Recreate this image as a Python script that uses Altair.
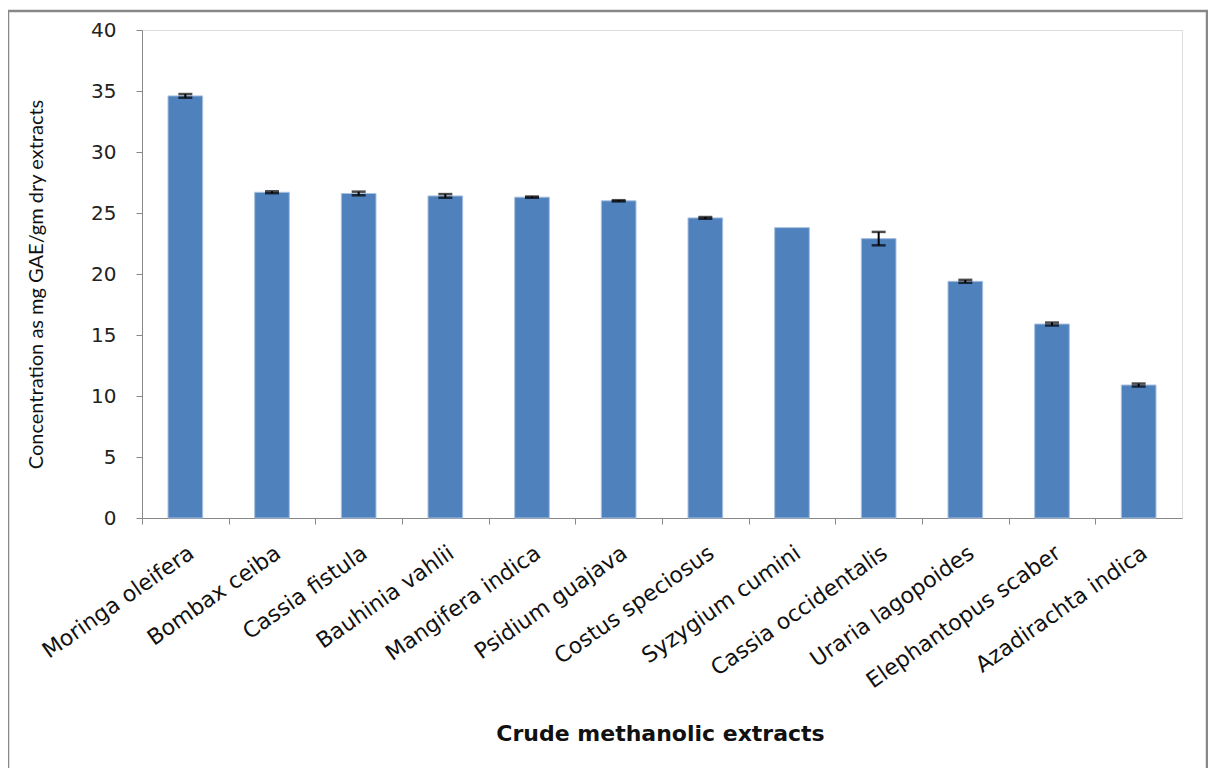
import altair as alt
import pandas as pd

species = ["Moringa oleifera", "Bombax ceiba", "Cassia fistula", "Bauhinia vahlii",
           "Mangifera indica", "Psidium guajava", "Costus speciosus", "Syzygium cumini",
           "Cassia occidentalis", "Uraria lagopoides", "Elephantopus scaber", "Azadirachta indica"]
values = [34.6, 26.7, 26.6, 26.4, 26.3, 26.0, 24.6, 23.8, 22.9, 19.4, 15.9, 10.9]
errors = [0.15, 0.08, 0.15, 0.15, 0.05, 0.05, 0.07, 0.0, 0.55, 0.12, 0.12, 0.12]
y_ticks = [0, 5, 10, 15, 20, 25, 30, 35, 40]

df = pd.DataFrame({"species": species, "value": values, "err": errors})
df["low"] = df["value"] - df["err"]
df["high"] = df["value"] + df["err"]
err_df = df[df["err"] > 0]

W, H = 1040, 488
step = W / len(species)

x_enc = alt.X("species:N", sort=species,
              scale=alt.Scale(paddingInner=0.6, paddingOuter=0.3),
              axis=alt.Axis(title="Crude methanolic extracts",
                            labelAngle=-35, labelAlign="right", labelBaseline="top",
                            labelFont="DejaVu Sans", labelFontSize=22, labelColor="#111",
                            labelPadding=18, labelLimit=0, bandPosition=0.5,
                            tickOffset=-step / 2, labelOffset=step / 2,
                            tickSize=6, tickColor="#888", domainColor="#888",
                            titleFont="DejaVu Sans", titleFontWeight="bold", titleFontSize=22,
                            titleColor="#111", titlePadding=32, titleX=W / 2 - 2))

y_scale = alt.Scale(domain=[0, 40], nice=False)

bars = alt.Chart(df).mark_bar(color="#4F81BD", stroke="#A9C1E0", strokeWidth=1).encode(
    x=x_enc,
    y=alt.Y("value:Q", scale=y_scale,
            axis=alt.Axis(title="Concentration as mg GAE/gm dry extracts", values=y_ticks,
                          grid=False, tickSize=6, tickColor="#888", domainColor="#888",
                          labelFont="DejaVu Sans", labelFontSize=20, labelColor="#222",
                          labelPadding=20,
                          titleFont="Lato", titleFontSize=20, titleY=H / 2 + 10,
                          titleFontWeight="normal", titleColor="#111", titlePadding=44)),
)

rules = alt.Chart(err_df).mark_rule(color="black", strokeWidth=2).encode(
    x=alt.X("species:N", sort=species),
    y=alt.Y("low:Q", scale=y_scale),
    y2="high:Q",
)
caps_lo = alt.Chart(err_df).mark_tick(color="black", thickness=2.5, size=14).encode(
    x=alt.X("species:N", sort=species),
    y=alt.Y("low:Q", scale=y_scale),
)
caps_hi = alt.Chart(err_df).mark_tick(color="black", thickness=2.5, size=14).encode(
    x=alt.X("species:N", sort=species),
    y=alt.Y("high:Q", scale=y_scale),
)

frame = alt.Chart(pd.DataFrame({"k": [0]})).mark_rect(
    fill=None, stroke="#888", strokeWidth=2.5, clip=False
).encode(x=alt.value(-134), x2=alt.value(1065), y=alt.value(-19), y2=alt.value(820))

chart = alt.layer(bars, rules, caps_lo, caps_hi, frame).properties(
    width=W, height=H,
    autosize=alt.AutoSizeParams(type="none"),
    padding={"left": 134, "top": 22, "right": 26, "bottom": 250},
).configure_view(stroke=None).configure(background="white")

chart.save("out.html", embed_options={"renderer": "svg", "actions": False})
